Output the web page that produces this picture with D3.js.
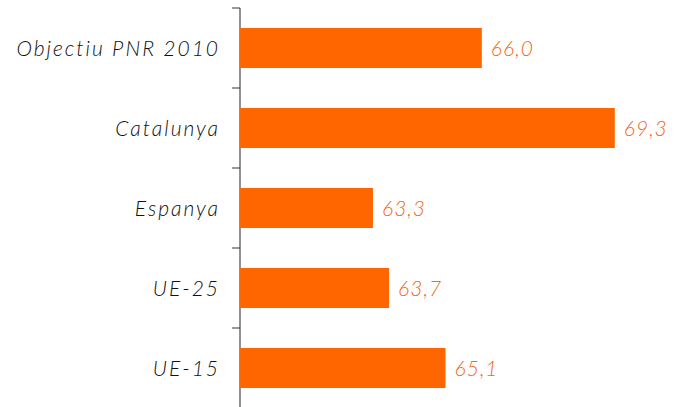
<!DOCTYPE html>
<html>
<head>
<meta charset="utf-8">
<script src="https://cdn.jsdelivr.net/npm/d3@7"></script>
<style>
	body { margin: 0; background: #fff; }
	svg { display: block; }
</style>
</head>
<body>
<svg id="chart"></svg>
<script>
const categories = ["Objectiu PNR 2010", "Catalunya", "Espanya", "UE-25", "UE-15"];
const values = [66.0, 69.3, 63.3, 63.7, 65.1];
const xDomain = [60, 70];

const width = 677;
const height = 407;
const margin = { top: 8, right: 34, bottom: -1, left: 240 };

const svg = d3.select("#chart")
	.attr("width", width)
	.attr("height", height);

const x = d3.scaleLinear()
	.domain(xDomain)
	.range([margin.left, width - margin.right]);

const y = d3.scaleBand()
	.domain(categories)
	.range([margin.top, height - margin.bottom])
	.paddingInner(0.5)
	.paddingOuter(0.25);

const step = y.step();

// axis line with ticks at band boundaries
const axis = svg.append("g");
axis.append("line")
	.attr("x1", margin.left).attr("x2", margin.left)
	.attr("y1", margin.top).attr("y2", height)
	.attr("stroke", "#555")
	.attr("stroke-width", 1.3);

const boundaries = d3.range(categories.length + 1).map(i => margin.top + i * step);
axis.selectAll(".tick")
	.data(boundaries)
	.enter().append("line")
	.attr("x1", margin.left - 8).attr("x2", margin.left)
	.attr("y1", d => d).attr("y2", d => d)
	.attr("stroke", "#333")
	.attr("stroke-width", 1);

svg.selectAll(".bar")
	.data(categories)
	.enter().append("rect")
	.attr("class", "bar")
	.attr("x", x(xDomain[0]))
	.attr("y", d => y(d))
	.attr("width", (d, i) => x(values[i]) - x(xDomain[0]))
	.attr("height", y.bandwidth())
	.attr("fill", "#ff6600");

svg.selectAll(".cat")
	.data(categories)
	.enter().append("text")
	.attr("x", margin.left - 20)
	.attr("y", d => y(d) + y.bandwidth() / 2)
	.attr("dy", "0.36em")
	.attr("text-anchor", "end")
	.attr("font-family", "Lato, 'Open Sans', sans-serif")
	.attr("font-style", "italic")
	.attr("font-weight", 300)
	.attr("font-size", "21px")
	.attr("letter-spacing", "2px")
	.attr("fill", "#111")
	.text(d => d);

svg.selectAll(".val")
	.data(categories)
	.enter().append("text")
	.attr("x", (d, i) => x(values[i]) + 9)
	.attr("y", d => y(d) + y.bandwidth() / 2)
	.attr("dy", "0.36em")
	.attr("font-family", "Lato, 'Open Sans', sans-serif")
	.attr("font-style", "italic")
	.attr("font-weight", 300)
	.attr("font-size", "21px")
	.attr("letter-spacing", "1px")
	.attr("fill", "#f06a1a")
	.text((d, i) => values[i].toFixed(1).replace(".", ","));
</script>
</body>
</html>
